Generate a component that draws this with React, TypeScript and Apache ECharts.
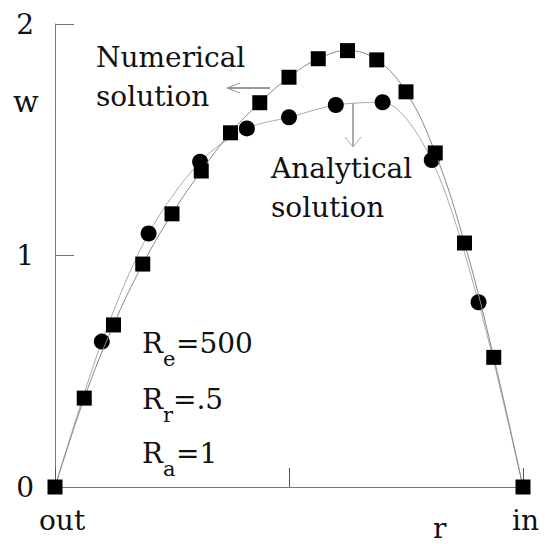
import React, { useEffect, useRef } from "react";
import * as echarts from "echarts";

// Radial position r (0 = outer wall, 1 = inner wall) and axial velocity w
const numericalR = [
  0, 0.0625, 0.125, 0.1875, 0.25, 0.3125, 0.375, 0.4375, 0.5, 0.5625, 0.625,
  0.6875, 0.75, 0.8125, 0.875, 0.9375, 1,
];
const numericalW = [
  0, 0.384, 0.7, 0.963, 1.18, 1.365, 1.53, 1.66, 1.77, 1.85, 1.885, 1.845,
  1.707, 1.443, 1.054, 0.56, 0,
];
const analyticalR = [0, 0.1, 0.2, 0.31, 0.41, 0.5, 0.6, 0.7, 0.805, 0.905, 1];
const analyticalW = [0, 0.628, 1.095, 1.405, 1.549, 1.597, 1.65, 1.662, 1.412, 0.798, 0];

const wTicks = [0, 1, 2];
const rTicks = [0, 0.5, 1];
const rEndLabels = ["out", "in"];
const params = [
  { base: "R", sub: "e", rest: "=500" },
  { base: "R", sub: "r", rest: "=.5" },
  { base: "R", sub: "a", rest: "=1" },
];

const SERIF = "DejaVu Serif";
const INK = "#111";
const FS = 28;

function label(text: string, x: number, y: number, fontSize = FS) {
  return {
    type: "text",
    x,
    y,
    silent: true,
    style: {
      text,
      fontSize,
      fontFamily: SERIF,
      fill: INK,
      align: "left",
      verticalAlign: "middle",
    },
  };
}

export default function App() {
  const ref = useRef<HTMLDivElement>(null);

  useEffect(() => {
    document.body.style.margin = "0";
    if (!ref.current) return;
    const chart = echarts.init(ref.current, undefined, { renderer: "svg" });

    const paramSubX = [163, 163, 163];
    const paramRestX = [176, 173, 176];
    const paramBase = [353, 409, 463];
    const paramGraphics: any[] = [];
    params.forEach((p, i) => {
      const b = paramBase[i];
      paramGraphics.push(label(p.base, 142, b - 9.8));
      paramGraphics.push(label(p.sub, paramSubX[i], b + 5.7, 21));
      paramGraphics.push(label(p.rest, paramRestX[i], b - 9.8));
    });

    chart.setOption({
      animation: false,
      backgroundColor: "#fff",
      textStyle: { fontFamily: SERIF },
      grid: { left: 55, right: 22, top: 24, bottom: 57, outerBoundsMode: "none" },
      xAxis: {
        type: "value",
        min: rTicks[0],
        max: rTicks[rTicks.length - 1],
        interval: rTicks[1] - rTicks[0],
        axisLine: { lineStyle: { color: "#777", width: 1 } },
        axisTick: { show: true, inside: true, length: 19, lineStyle: { color: "#555" } },
        axisLabel: { show: false },
        splitLine: { show: false },
      },
      yAxis: {
        type: "value",
        min: wTicks[0],
        max: wTicks[wTicks.length - 1],
        interval: wTicks[1] - wTicks[0],
        axisLine: { show: true, lineStyle: { color: "#777", width: 1 } },
        axisTick: { show: true, inside: true, length: 19, lineStyle: { color: "#777" } },
        axisLabel: {
          fontSize: 28,
          fontFamily: SERIF,
          color: INK,
          margin: 21,
        },
        splitLine: { show: false },
      },
      series: [
        {
          name: "Analytical solution",
          type: "line",
          smooth: 0.3,
          z: 2,
          data: analyticalR.map((r, i) =>
            i === 0 || i === analyticalR.length - 1
              ? { value: [r, analyticalW[i]], symbol: "none" }
              : [r, analyticalW[i]]
          ),
          symbol: "circle",
          symbolSize: 16,
          showAllSymbol: true,
          itemStyle: { color: "#000" },
          lineStyle: { color: "#aaa", width: 1 },
        },
        {
          name: "Numerical solution",
          type: "line",
          smooth: 0.4,
          z: 3,
          data: numericalR.map((r, i) => [r, numericalW[i]]),
          symbol: "rect",
          symbolSize: 15,
          showAllSymbol: true,
          itemStyle: { color: "#000" },
          lineStyle: { color: "#888", width: 1 },
        },
      ],
      graphic: [
        label("Numerical", 96, 57),
        label("solution", 96, 96),
        label("Analytical", 271, 168),
        label("solution", 271, 207),
        ...paramGraphics,
        label("w", 13, 101, 30),
        label(rEndLabels[0], 39, 520),
        label(rEndLabels[1], 512, 520),
        label("r", 433, 528),
        // arrow pointing to the numerical label
        {
          type: "line",
          silent: true,
          shape: { x1: 270, y1: 88, x2: 227, y2: 88 },
          style: { stroke: "#333", lineWidth: 1 },
        },
        {
          type: "polyline",
          silent: true,
          shape: { points: [[240, 83], [227, 88], [240, 93]] },
          style: { stroke: "#999", lineWidth: 1, fill: "none" },
        },
        // arrow pointing to the analytical label
        {
          type: "line",
          silent: true,
          shape: { x1: 353, y1: 103, x2: 353, y2: 147 },
          style: { stroke: "#555", lineWidth: 1 },
        },
        {
          type: "polyline",
          silent: true,
          shape: { points: [[345, 137], [353, 147], [361, 137]] },
          style: { stroke: "#aaa", lineWidth: 1, fill: "none" },
        },
      ],
    });

    return () => chart.dispose();
  }, []);

  return <div ref={ref} style={{ width: 545, height: 544 }} />;
}
